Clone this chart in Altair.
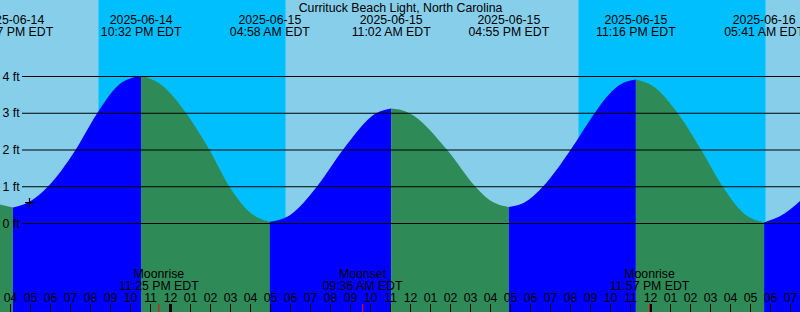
import altair as alt
import pandas as pd

W, H = 800, 312
FONT = "Liberation Sans"
FS = 12.3
TITLE = "Currituck Beach Light, North Carolina"

# hours are counted from 2025-06-14 04:00 PM EDT
X_DOMAIN = [-0.525, 39.475]
Y_DOMAIN = [-2.408, 6.082]   # feet

# tide extremes
extreme_hours = [0.117, 6.533, 12.967, 19.033, 24.917, 31.267, 37.683]
extreme_feet = [0.435, 4.02, 0.045, 3.13, 0.45, 3.92, 0.03]
extreme_dates = ["2025-06-14", "2025-06-14", "2025-06-15", "2025-06-15",
                 "2025-06-15", "2025-06-15", "2025-06-16"]
extreme_times = ["04:07 PM EDT", "10:32 PM EDT", "04:58 AM EDT", "11:02 AM EDT",
                 "04:55 PM EDT", "11:16 PM EDT", "05:41 AM EDT"]

# curve readings between the extremes
read_hours = [-0.525, 0.95, 1.865, 3.25, 4.335, 5.45, 7.45, 8.785, 9.45, 9.95,
              10.95, 11.95, 13.95, 15.315, 16.615, 18.28, 19.45, 19.95, 21.835,
              23.25, 23.95, 25.7, 26.615, 28.0, 29.2, 29.45, 30.45, 32.2, 33.365,
              34.535, 35.615, 36.7, 38.7, 39.475]
read_feet = [0.52, 0.59, 1.0, 2.0, 3.0, 3.79, 3.81, 3.0, 2.45, 2.0,
             1.0, 0.31, 0.22, 1.0, 2.0, 3.0, 3.10, 3.0, 2.0,
             1.0, 0.64, 0.57, 1.0, 2.0, 3.0, 3.19, 3.77, 3.71, 3.0,
             2.0, 1.0, 0.26, 0.27, 0.61]

# night (sunset -> sunrise)
night_start = [4.4, 28.4]
night_end = [13.75, 37.75]

# moon events
moon_hours = [7.417, 17.6, 31.95]
moon_names = ["Moonrise", "Moonset", "Moonrise"]
moon_times = ["11:25 PM EDT", "09:36 AM EDT", "11:57 PM EDT"]

# hour ticks
tick_hours = list(range(40))
tick_labels = ["04", "05", "06", "07", "08", "09", "10", "11", "12", "01",
               "02", "03", "04", "05", "06", "07", "08", "09", "10", "11",
               "12", "01", "02", "03", "04", "05", "06", "07", "08", "09",
               "10", "11", "12", "01", "02", "03", "04", "05", "06", "07"]
midnight_hours = [8, 32]

# level lines
level_feet = [0, 1, 2, 3, 4]
level_labels = ["0 ft", "1 ft", "2 ft", "3 ft", "4 ft"]

# current-time mark
mark_hours = [0.95]
mark_feet = [0.57]

# ---------------------------------------------------------------
pts = sorted(zip(read_hours + extreme_hours, read_feet + extreme_feet))
bounds = [X_DOMAIN[0]] + extreme_hours + [X_DOMAIN[1]]
rows = []
for i in range(len(bounds) - 1):
    lo, hi = bounds[i], bounds[i + 1]
    seg = [(t, f) for t, f in pts if lo - 1e-9 <= t <= hi + 1e-9]
    d = "rising" if seg[-1][1] > seg[0][1] else "falling"
    for t, f in seg:
        rows.append({"seg": "s%d" % i, "dir": d, "hours": t, "feet": f})
curve_df = pd.DataFrame(rows)

xs = alt.Scale(domain=X_DOMAIN, nice=False, zero=False)
ys = alt.Scale(domain=Y_DOMAIN, nice=False, zero=False)


def X(f):
    return alt.X(f, type="quantitative", scale=xs, axis=None)


def Y(f):
    return alt.Y(f, type="quantitative", scale=ys, axis=None)


night = alt.Chart(pd.DataFrame({"s": night_start, "e": night_end})).mark_rect(
    color="#00BFFF").encode(x=X("s"), x2="e", y=alt.value(0), y2=alt.value(H))

areas = []
for sid, grp in curve_df.groupby("seg"):
    col = "#0000FF" if grp["dir"].iloc[0] == "rising" else "#2E8B57"
    areas.append(
        alt.Chart(grp).mark_area(interpolate="monotone", color=col, opacity=1).encode(
            x=X("hours"), y=Y("feet"), y2=alt.datum(Y_DOMAIN[0])
        )
    )

lev_df = pd.DataFrame({"ft": level_feet, "label": level_labels})
lev_rules = alt.Chart(lev_df).mark_rule(color="black", strokeWidth=1).encode(
    y=Y("ft"), x=alt.value(22), x2=alt.value(W))
lev_text = alt.Chart(lev_df).mark_text(
    align="left", baseline="alphabetic", dy=4, fontSize=FS, font=FONT, color="black"
).encode(y=Y("ft"), x=alt.value(2.5), text="label:N")

tick_df = pd.DataFrame({"h": tick_hours, "label": tick_labels})
ticks = alt.Chart(tick_df).mark_rule(color="black", strokeWidth=1).encode(
    x=X("h"), y=alt.value(304), y2=alt.value(H))
tick_text = alt.Chart(tick_df).mark_text(
    align="center", baseline="alphabetic", fontSize=FS, font=FONT, color="black"
).encode(x=X("h"), y=alt.value(302), text="label:N")
mid_ticks = alt.Chart(pd.DataFrame({"h": midnight_hours})).mark_rule(
    color="black", strokeWidth=3).encode(x=X("h"), y=alt.value(304), y2=alt.value(H))

moon_df = pd.DataFrame({"h": moon_hours, "name": moon_names, "time": moon_times})
moon_ticks = alt.Chart(moon_df).mark_rule(color="#FF0000", strokeWidth=1).encode(
    x=X("h"), y=alt.value(304), y2=alt.value(H))
moon_name = alt.Chart(moon_df).mark_text(
    align="center", baseline="alphabetic", fontSize=FS, font=FONT, color="black"
).encode(x=X("h"), y=alt.value(278), text="name:N")
moon_time = alt.Chart(moon_df).mark_text(
    align="center", baseline="alphabetic", fontSize=FS, font=FONT, color="black"
).encode(x=X("h"), y=alt.value(289.7), text="time:N")

ext_df = pd.DataFrame({"h": extreme_hours, "date": extreme_dates, "time": extreme_times})
ext_date = alt.Chart(ext_df).mark_text(
    align="center", baseline="alphabetic", fontSize=FS, font=FONT, color="black"
).encode(x=X("h"), y=alt.value(23.6), text="date:N")
ext_time = alt.Chart(ext_df).mark_text(
    align="center", baseline="alphabetic", fontSize=FS, font=FONT, color="black"
).encode(x=X("h"), y=alt.value(35.6), text="time:N")

title = alt.Chart(pd.DataFrame({"t": [TITLE]})).mark_text(
    align="center", baseline="alphabetic", fontSize=FS, font=FONT, color="black"
).encode(x=alt.value(400.5), y=alt.value(12), text="t:N")

plus = alt.Chart(pd.DataFrame({"h": mark_hours, "f": mark_feet})).mark_point(
    shape="M-1,0L1,0M0,-1L0,1", size=81, filled=False, color="black",
    strokeWidth=1.3, opacity=1
).encode(x=X("h"), y=Y("f"))

chart = alt.layer(
    night, *areas, lev_rules, lev_text, ticks, mid_ticks, moon_ticks, tick_text,
    moon_name, moon_time, ext_date, ext_time, title, plus
).properties(
    width=W, height=H, background="#87CEEB", padding=0,
    autosize=alt.AutoSizeParams(type="none")
).configure_view(stroke=None, fill="#87CEEB")

chart.save("out.html", embed_options={"renderer": "svg", "actions": False})
